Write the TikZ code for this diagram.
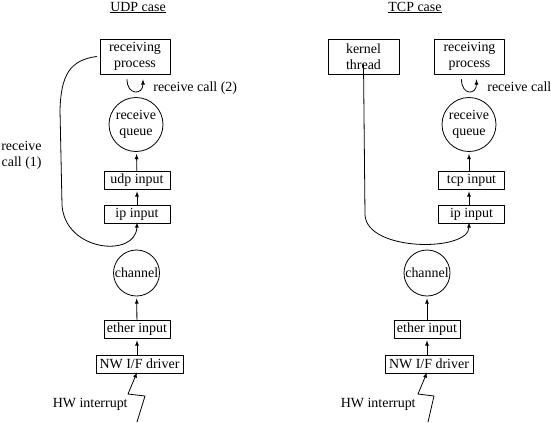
\documentclass[tikz,border=0pt]{standalone}
\usepackage{fontspec}
\setmainfont{Liberation Serif}
\usepackage{tikz}
\usetikzlibrary{arrows}
\usetikzlibrary{positioning}
\usetikzlibrary{calc}

\begin{document}
\begin{tikzpicture}[line cap=round,line join=round,>=latex,x=1bp,y=-1bp,line width=0.8bp,
  font=\fontsize{14}{16}\selectfont,
  layer/.style={draw,minimum height=18bp,minimum width=66bp,inner sep=1bp},
  procbox/.style={draw,minimum height=35bp,minimum width=70bp,align=center,inner sep=1bp},
  queue/.style={draw,circle,inner sep=0pt,align=center},
  lab/.style={inner sep=0pt},
  flow/.style={->,shorten >=2bp}]
\useasboundingbox (0,0) rectangle (551,422);

% UDP case
\draw (138,11) node[anchor=base,lab] (udptitle) {\underline{UDP case}};
\draw (135,56.5) node[procbox] (uproc) {receiving\\process};
\draw (136,124.5) node[queue,minimum size=54bp] (uque) {receive\\queue};
\draw (137,180) node[layer] (uudp) {udp input};
\draw (137,214) node[layer] (uip) {ip input};
\draw (136.5,273) node[queue,minimum size=46bp] (uchan) {channel};
\draw (137,329) node[layer] (ueth) {ether input};
\draw (139.5,364) node[layer,minimum width=87bp] (udrv) {NW I/F driver};
\draw (153,91) node[anchor=base west,lab] (ucall) {receive call (2)};
\draw (42,155) node[anchor=east,align=right,lab] (ucallone) {receive\\call (1)};
\draw (128,407) node[anchor=base east,lab] (uhwlab) {HW interrupt};
\coordinate (uhw) at (137,422);

\path (uudp) edge[flow] (uque);
\path (uip) edge[flow] (uudp);
\path (ueth) edge[flow] (uchan);
\path (udrv.north -| ueth) edge[flow] (ueth.south);
\draw[->] ([shift={(-8,5)}]uproc.south) .. controls +(0,16) and +(0,16) .. ([shift={(8,5)}]uproc.south);
\draw[->] ([xshift=-3]uproc.west) .. controls (70,60) and (61,75) .. (60,110) -- (62,205)
  .. controls (65,252) and (136,258) .. ([yshift=1]uip.south);
\draw[->] (uhw) -- (145,396) -- (128,394) -- ([yshift=1]udrv.south -| ueth);

% TCP case
\draw (415,11) node[anchor=base,lab] (tcptitle) {\underline{TCP case}};
\draw (363.5,56.5) node[procbox,minimum width=71bp] (kthr) {kernel\\thread};
\draw (469.5,56.5) node[procbox] (tproc) {receiving\\process};
\draw (469,124.5) node[queue,minimum size=54bp] (tque) {receive\\queue};
\draw (471.5,180) node[layer] (ttcp) {tcp input};
\draw (471.5,214) node[layer] (tip) {ip input};
\draw (427,273) node[queue,minimum size=46bp] (tchan) {channel};
\draw (427,329) node[layer] (teth) {ether input};
\draw (429,364) node[layer,minimum width=88bp] (tdrv) {NW I/F driver};
\draw (487,91) node[anchor=base west,lab] (tcall) {receive call};
\draw (416,407) node[anchor=base east,lab] (thwlab) {HW interrupt};
\coordinate (thw) at (428,422);

\path (ttcp.north -| tque) edge[flow] (tque);
\path (tip.north -| tque) edge[flow] (ttcp.south -| tque);
\path (teth) edge[flow] (tchan);
\path (tdrv.north -| teth) edge[flow] (teth.south);
\draw[->] ([shift={(-8,5)}]tproc.south) .. controls +(0,16) and +(0,16) .. ([shift={(7,5)}]tproc.south);
\draw[->] ([yshift=10]kthr.south) -- (365,215)
  .. controls (367,252) and (469,252) .. ([yshift=1]tip.south -| tque);
\draw[->] (thw) -- (434,396) -- (418,394) -- ([yshift=1]tdrv.south -| tchan);
\end{tikzpicture}
\end{document}
